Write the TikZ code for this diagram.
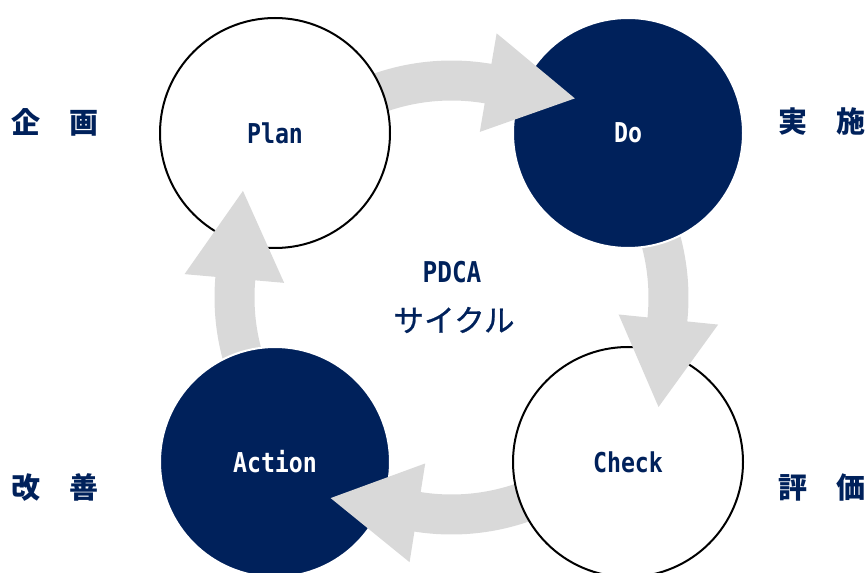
\documentclass[tikz,border=0pt]{standalone}
\usepackage{fontspec}
\setmainfont{Noto Sans CJK JP}
\newfontfamily\stagefont{DejaVu Sans Mono}[FakeStretch=0.85]
\newfontfamily\cyclefont{Noto Sans CJK JP}[FakeBold=0.8]
\usetikzlibrary{calc}

\definecolor{navy}{RGB}{0,33,91}
\definecolor{arrowgray}{RGB}{217,217,217}

\tikzset{
	stage/.style={circle, inner sep=0pt, minimum size=172.5pt, line width=1.5pt,
		font=\stagefont\bfseries\fontsize{20.5}{24}\selectfont},
	light/.style={stage, draw=black, fill=white, text=navy},
	dark/.style={stage, draw=white, fill=navy, text=white},
	word/.style={text=navy, font=\bfseries\fontsize{21.75}{26}\selectfont},
}

\begin{document}
\begin{tikzpicture}[x=0.75pt, y=0.75pt]
	\useasboundingbox (0,0) rectangle (868,572);
	\coordinate (m) at (451.5,274.5);
	
	% shafts of the four arrows
	\foreach \b in {80.3,175,261,354.2}
		\draw[arrowgray, line width=30pt] ($(m)+(\b+48:217)$) arc[start angle=\b+48, end angle=\b-1, radius=217];
	
	\node[light] (plan) at (275,439) {Plan};
	\node[dark] (do) at (628,439) {Do};
	\node[light] (check) at (628,110) {Check};
	\node[dark] (action) at (275,110) {Action};
	
	% heads
	\foreach \b in {80.3,175,261,354.2}
		\fill[arrowgray] ($(m)+(\b:268)$) -- ($(m)+(\b-22.07:234.2)$) -- ($(m)+(\b:168)$) -- cycle;
	
	\node[text=navy, font=\stagefont\bfseries\fontsize{21.5}{25}\selectfont] (pdca) at (452,300) {PDCA};
	\node[text=navy, font=\cyclefont\fontsize{23}{28}\selectfont] (cycle) at (454,252) {サイクル};
	
	\node[word] (kikaku) at (55,450) {企　画};
	\node[word] (jisshi) at (822,450) {実　施};
	\node[word] (kaizen) at (55,84) {改　善};
	\node[word] (hyouka) at (822,84) {評　価};
\end{tikzpicture}
\end{document}
